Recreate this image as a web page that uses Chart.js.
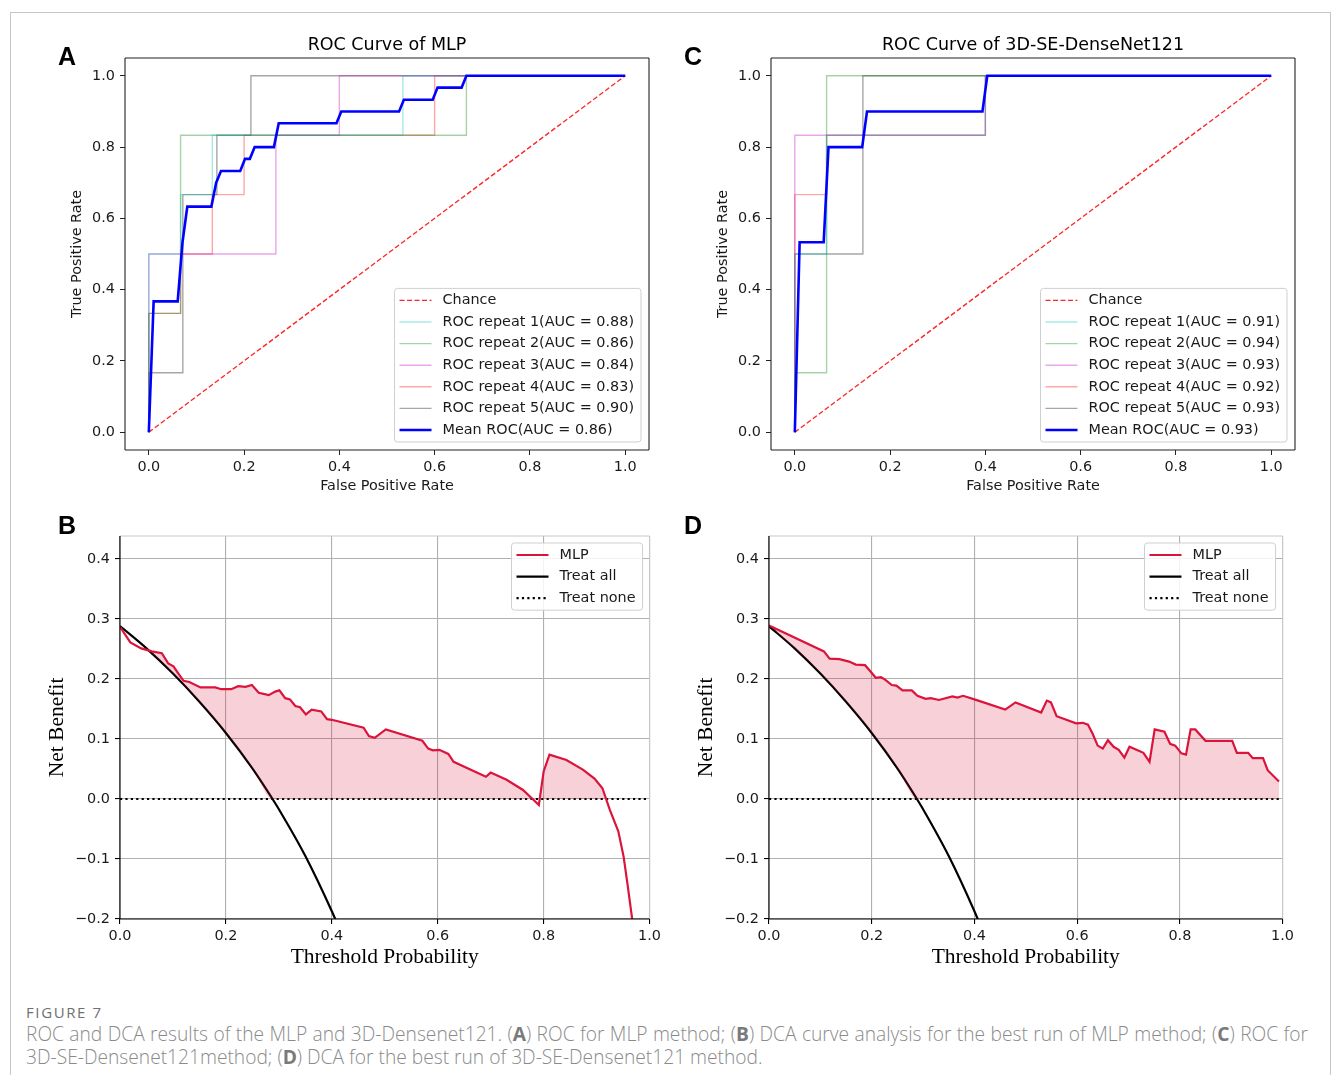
<!DOCTYPE html>
<html>
<head>
<meta charset="utf-8">
<script src="https://cdn.jsdelivr.net/npm/chart.js@4.4.0/dist/chart.umd.min.js"></script>
<style>
  body { margin: 0; background: #fff; width: 1333px; height: 1075px; position: relative; overflow: hidden; }
  .frame { position: absolute; left: 10px; top: 12px; width: 1319px; height: 1100px; border: 1px solid #c6c6c6; }
  canvas { position: absolute; }
  .tag { position: absolute; font: bold 25px "Liberation Sans", Arial, sans-serif; color: #000; line-height: 25px; }
  .fignum { position: absolute; left: 26px; top: 1002px; font: 15px "Open Sans", sans-serif; color: #707070; letter-spacing: 1.6px; }
  .cap { position: absolute; left: 26px; width: 1282px; font: 300 19.2px "Open Sans", sans-serif; color: #8a8a8a; white-space: nowrap; line-height: 23px; }
  .cap b { font-weight: 700; color: #7a7a7a; }
  .l1 { top: 1022px; text-align: justify; text-align-last: justify; }
  .l2 { top: 1045px; }
</style>
</head>
<body>
<div class="frame"></div>

<canvas id="rocMlp" width="640" height="480" style="left:20px; top:26px"></canvas>
<canvas id="rocDense" width="640" height="480" style="left:666px; top:26px"></canvas>
<canvas id="dcaMlp" width="645" height="470" style="left:20px; top:510px"></canvas>
<canvas id="dcaDense" width="630" height="470" style="left:668px; top:510px"></canvas>

<div class="tag" style="left:58px; top:44px">A</div>
<div class="tag" style="left:684px; top:44px">C</div>
<div class="tag" style="left:58px; top:513px">B</div>
<div class="tag" style="left:684px; top:513px">D</div>

<div class="fignum">FIGURE 7</div>
<div class="cap l1">ROC and DCA results of the MLP and 3D-Densenet121. (<b>A</b>) ROC for MLP method; (<b>B</b>) DCA curve analysis for the best run of MLP method; (<b>C</b>) ROC for</div>
<div class="cap l2">3D-SE-Densenet121method; (<b>D</b>) DCA for the best run of 3D-SE-Densenet121 method.</div>

<script>
// ---- tick labels ----
const rocTicks = [0, 0.2, 0.4, 0.6, 0.8, 1.0];
const dcaXTicks = [0, 0.2, 0.4, 0.6, 0.8, 1.0];
const dcaYTicks = [-0.2, -0.1, 0, 0.1, 0.2, 0.3, 0.4];

// ---- chance line ----
const chanceFpr = [0, 1];
const chanceTpr = [0, 1];

// ---- ROC of MLP ----
const mlpLabels = ['ROC repeat 1(AUC = 0.88)', 'ROC repeat 2(AUC = 0.86)', 'ROC repeat 3(AUC = 0.84)',
                   'ROC repeat 4(AUC = 0.83)', 'ROC repeat 5(AUC = 0.90)', 'Mean ROC(AUC = 0.86)'];
const mlpRep1Fpr = [0, 0, 0.0667, 0.0667, 0.1333, 0.1333, 0.5333, 0.5333, 1];
const mlpRep1Tpr = [0, 0.5, 0.5, 0.6667, 0.6667, 0.8333, 0.8333, 1, 1];
const mlpRep2Fpr = [0, 0, 0.0667, 0.0667, 0.6667, 0.6667, 1];
const mlpRep2Tpr = [0, 0.3333, 0.3333, 0.8333, 0.8333, 1, 1];
const mlpRep3Fpr = [0, 0, 0.2667, 0.2667, 0.4, 0.4, 1];
const mlpRep3Tpr = [0, 0.5, 0.5, 0.8333, 0.8333, 1, 1];
const mlpRep4Fpr = [0, 0, 0.0667, 0.0667, 0.1333, 0.1333, 0.2, 0.2, 0.6, 0.6, 1];
const mlpRep4Tpr = [0, 0.3333, 0.3333, 0.5, 0.5, 0.6667, 0.6667, 0.8333, 0.8333, 1, 1];
const mlpRep5Fpr = [0, 0, 0.0714, 0.0714, 0.1429, 0.1429, 0.2143, 0.2143, 1];
const mlpRep5Tpr = [0, 0.1667, 0.1667, 0.6667, 0.6667, 0.8333, 0.8333, 1, 1];
const mlpMeanFpr = [0, 0.0101, 0.0606, 0.0707, 0.0808, 0.1313, 0.1414, 0.1515, 0.1919, 0.2020, 0.2121,
                    0.2222, 0.2626, 0.2727, 0.3939, 0.4040, 0.5253, 0.5354, 0.5960, 0.6061, 0.6566, 0.6667, 1];
const mlpMeanTpr = [0, 0.367, 0.367, 0.533, 0.633, 0.633, 0.7, 0.733, 0.733, 0.767, 0.767,
                    0.8, 0.8, 0.867, 0.867, 0.9, 0.9, 0.933, 0.933, 0.967, 0.967, 1, 1];

// ---- ROC of 3D-SE-DenseNet121 ----
const denseLabels = ['ROC repeat 1(AUC = 0.91)', 'ROC repeat 2(AUC = 0.94)', 'ROC repeat 3(AUC = 0.93)',
                     'ROC repeat 4(AUC = 0.92)', 'ROC repeat 5(AUC = 0.93)', 'Mean ROC(AUC = 0.93)'];
const denseRep1Fpr = [0, 0, 0.0667, 0.0667, 0.4, 0.4, 1];
const denseRep1Tpr = [0, 0.5, 0.5, 0.8333, 0.8333, 1, 1];
const denseRep2Fpr = [0, 0, 0.0667, 0.0667, 1];
const denseRep2Tpr = [0, 0.1667, 0.1667, 1, 1];
const denseRep3Fpr = [0, 0, 0.4, 0.4, 1];
const denseRep3Tpr = [0, 0.8333, 0.8333, 1, 1];
const denseRep4Fpr = [0, 0, 0.0667, 0.0667, 0.4, 0.4, 1];
const denseRep4Tpr = [0, 0.6667, 0.6667, 0.8333, 0.8333, 1, 1];
const denseRep5Fpr = [0, 0, 0.1429, 0.1429, 1];
const denseRep5Tpr = [0, 0.5, 0.5, 1, 1];
const denseMeanFpr = [0, 0.0101, 0.0606, 0.0707, 0.1414, 0.1515, 0.3939, 0.4040, 1];
const denseMeanTpr = [0, 0.533, 0.533, 0.8, 0.8, 0.9, 0.9, 1, 1];

// ---- DCA: treat all / treat none ----
const treatAllX = [0, 0.05, 0.10, 0.15, 0.20, 0.25, 0.288, 0.30, 0.35, 0.40, 0.42];
const treatAllY = [0.288, 0.251, 0.209, 0.162, 0.110, 0.051, 0, -0.017, -0.095, -0.187, -0.228];
const treatNoneX = [0, 1];
const treatNoneY = [0, 0];

// ---- DCA: MLP best run ----
const dcaMlpX = [0, 0.0195, 0.040, 0.060, 0.079, 0.091, 0.101, 0.111, 0.120, 0.131, 0.152, 0.180, 0.191,
                 0.210, 0.223, 0.237, 0.249, 0.262, 0.281, 0.293, 0.301, 0.312, 0.321, 0.331, 0.340, 0.351,
                 0.362, 0.380, 0.391, 0.400, 0.460, 0.470, 0.481, 0.502, 0.571, 0.582, 0.591, 0.603, 0.620,
                 0.630, 0.691, 0.700, 0.730, 0.761, 0.791, 0.800, 0.811, 0.843, 0.874, 0.896, 0.911, 0.925,
                 0.941, 0.951, 0.959, 0.967, 0.975];
const dcaMlpY = [0.287, 0.261, 0.251, 0.246, 0.243, 0.226, 0.221, 0.208, 0.197, 0.195, 0.186, 0.186, 0.183,
                 0.183, 0.188, 0.187, 0.190, 0.177, 0.173, 0.179, 0.181, 0.168, 0.166, 0.155, 0.153, 0.141,
                 0.149, 0.146, 0.133, 0.132, 0.119, 0.105, 0.102, 0.116, 0.097, 0.084, 0.081, 0.082, 0.075,
                 0.062, 0.037, 0.044, 0.032, 0.015, -0.010, 0.046, 0.074, 0.065, 0.049, 0.034, 0.018, -0.018,
                 -0.054, -0.096, -0.146, -0.199, -0.26];

// ---- DCA: 3D-SE-DenseNet121 best run (legend says MLP) ----
const dcaDenseX = [0, 0.107, 0.118, 0.137, 0.156, 0.169, 0.187, 0.196, 0.208, 0.218, 0.226, 0.239, 0.248,
                   0.260, 0.278, 0.289, 0.305, 0.315, 0.331, 0.357, 0.367, 0.378, 0.400, 0.460, 0.480, 0.530,
                   0.541, 0.549, 0.560, 0.598, 0.611, 0.621, 0.630, 0.640, 0.650, 0.660, 0.671, 0.681, 0.692,
                   0.702, 0.729, 0.741, 0.751, 0.770, 0.781, 0.791, 0.803, 0.812, 0.821, 0.830, 0.850, 0.902,
                   0.911, 0.933, 0.942, 0.962, 0.971, 0.993];
const dcaDenseY = [0.289, 0.246, 0.234, 0.233, 0.229, 0.224, 0.223, 0.214, 0.202, 0.203, 0.199, 0.190, 0.189,
                   0.181, 0.181, 0.172, 0.167, 0.168, 0.165, 0.171, 0.169, 0.172, 0.166, 0.149, 0.161, 0.144,
                   0.164, 0.161, 0.138, 0.126, 0.127, 0.124, 0.109, 0.089, 0.084, 0.098, 0.087, 0.082, 0.069,
                   0.087, 0.077, 0.062, 0.116, 0.112, 0.092, 0.089, 0.076, 0.074, 0.116, 0.116, 0.097, 0.097,
                   0.077, 0.077, 0.068, 0.068, 0.048, 0.029];

// ---- helpers ----
Chart.defaults.font.family = 'DejaVu Sans';
Chart.defaults.color = '#1a1a1a';

const TICK_FONT = { family: 'DejaVu Sans', size: 14.4 };
const repColors = ['rgba(0,191,191,0.35)', 'rgba(0,128,0,0.35)', 'rgba(191,0,191,0.35)',
                   'rgba(255,0,0,0.35)', 'rgba(0,0,0,0.35)'];

function pts(xs, ys) {
    return xs.map((x, i) => ({ x: x, y: ys[i] }));
}

function fmt(v) {
    return v.toFixed(1).replace('-', '\u2212');
}

// draws the axes frame (matplotlib spines)
const spines = {
    id: 'spines',
    afterDatasetsDraw(chart, args, opts) {
        const { ctx, chartArea: a } = chart;
        const sides = [
            ['top', a.left, a.top, a.right, a.top],
            ['right', a.right, a.top, a.right, a.bottom],
            ['left', a.left, a.top, a.left, a.bottom],
            ['bottom', a.left, a.bottom, a.right, a.bottom]
        ];
        ctx.save();
        ctx.lineWidth = 1.1;
        sides.forEach(([k, x1, y1, x2, y2]) => {
            if (!opts[k]) return;
            ctx.strokeStyle = opts[k];
            ctx.beginPath();
            ctx.moveTo(x1, y1);
            ctx.lineTo(x2, y2);
            ctx.stroke();
        });
        ctx.restore();
    }
};

// axes title, centred over the plot area like matplotlib
const axTitle = {
    id: 'axTitle',
    afterDraw(chart, args, opts) {
        if (!opts.text) return;
        const { ctx, chartArea: a } = chart;
        ctx.save();
        ctx.font = '17.5px "DejaVu Sans"';
        ctx.fillStyle = '#000';
        ctx.textAlign = 'center';
        ctx.textBaseline = 'middle';
        ctx.fillText(opts.text, (a.left + a.right) / 2, a.top - 12.5);
        ctx.restore();
    }
};

// matplotlib style legend box
const boxLegend = {
    id: 'boxLegend',
    afterDraw(chart, args, opts) {
        const { ctx, chartArea: a } = chart;
        const items = chart.data.datasets
            .filter(d => d.legendRank !== undefined)
            .sort((p, q) => p.legendRank - q.legendRank);
        ctx.save();
        ctx.font = '14.4px "DejaVu Sans"';
        const textW = Math.max(...items.map(d => ctx.measureText(d.label).width));
        const w = 48 + textW + 7;
        const h = 24 + (items.length - 1) * 21.6;
        const x = a.right - opts.inset - w;
        const y = opts.corner === 'top' ? a.top + opts.inset : a.bottom - opts.inset - h;
        ctx.fillStyle = 'rgba(255,255,255,0.85)';
        ctx.strokeStyle = '#cfcfcf';
        ctx.lineWidth = 1;
        ctx.beginPath();
        ctx.roundRect(x, y, w, h, 3);
        ctx.fill();
        ctx.stroke();
        items.forEach((d, i) => {
            const cy = y + 12 + i * 21.6;
            ctx.strokeStyle = d.borderColor;
            ctx.lineWidth = d.borderWidth;
            ctx.setLineDash(d.borderDash || []);
            ctx.beginPath();
            ctx.moveTo(x + 5, cy);
            ctx.lineTo(x + 37, cy);
            ctx.stroke();
            ctx.setLineDash([]);
            ctx.fillStyle = '#1a1a1a';
            ctx.textBaseline = 'middle';
            ctx.fillText(d.label, x + 48, cy);
        });
        ctx.restore();
    }
};

function fixedTicks(values) {
    return scale => { scale.ticks = values.map(v => ({ value: v })); };
}

// ---- ROC chart ----
function makeRoc(id, title, labels, reps, mean) {
    const datasets = [{
        label: labels[5],
        data: pts(mean[0], mean[1]),
        borderColor: '#0000ff',
        borderWidth: 2.6,
        legendRank: 6
    }];
    reps.forEach((r, i) => {
        datasets.push({
            label: labels[i],
            data: pts(r[0], r[1]),
            borderColor: repColors[i],
            borderWidth: 1.4,
            legendRank: i + 1
        });
    });
    datasets.push({
        label: 'Chance',
        data: pts(chanceFpr, chanceTpr),
        borderColor: 'rgba(255,0,0,0.85)',
        borderWidth: 1.4,
        borderDash: [5, 2.5],
        legendRank: 0
    });

    new Chart(document.getElementById(id), {
        type: 'line',
        data: { datasets: datasets },
        options: {
            responsive: false,
            animation: false,
            events: [],
            devicePixelRatio: 1,
            layout: { padding: { left: 0, right: 11, top: 32, bottom: 6 } },
            elements: { point: { radius: 0 }, line: { tension: 0 } },
            plugins: {
                legend: { display: false },
                tooltip: { enabled: false },
                axTitle: { text: title },
                spines: { top: '#222', right: '#222', left: '#222', bottom: '#222' },
                boxLegend: { corner: 'bottom', inset: 8 }
            },
            scales: {
                x: {
                    type: 'linear',
                    min: -0.05,
                    max: 1.05,
                    afterBuildTicks: fixedTicks(rocTicks),
                    afterFit: s => { s.height = 50; },
                    border: { display: false },
                    grid: { drawOnChartArea: false, drawTicks: true, tickLength: 5, tickColor: '#222' },
                    ticks: { font: TICK_FONT, padding: 4, maxRotation: 0, callback: v => fmt(v) },
                    title: { display: true, text: 'False Positive Rate', font: TICK_FONT, padding: { bottom: 5.4 } }
                },
                y: {
                    type: 'linear',
                    min: -0.05,
                    max: 1.05,
                    afterBuildTicks: fixedTicks(rocTicks),
                    afterFit: s => { s.width = 105; },
                    border: { display: false },
                    grid: { drawOnChartArea: false, drawTicks: true, tickLength: 5, tickColor: '#222' },
                    ticks: { font: TICK_FONT, padding: 5, callback: v => fmt(v) },
                    title: { display: true, text: 'True Positive Rate', font: TICK_FONT, padding: { top: 48.4 } }
                }
            }
        },
        plugins: [spines, axTitle, boxLegend]
    });
}

// ---- DCA chart ----
function makeDca(id, modelX, modelY, yWidth, yTitlePad, rightPad) {
    const floor = pts(treatAllX, treatAllY.map(v => Math.max(v, 0)));
    floor.push({ x: 1, y: 0 });
    const serif = { family: '"Liberation Serif", "Times New Roman", serif', size: 21.5 };

    new Chart(document.getElementById(id), {
        type: 'line',
        data: {
            datasets: [{
                label: 'MLP',
                data: pts(modelX, modelY),
                borderColor: '#dc143c',
                borderWidth: 2.2,
                fill: { target: 3, above: 'rgba(220,20,60,0.2)', below: 'rgba(0,0,0,0)' },
                legendRank: 0
            }, {
                label: 'Treat all',
                data: pts(treatAllX, treatAllY),
                borderColor: '#000',
                borderWidth: 2.2,
                cubicInterpolationMode: 'monotone',
                legendRank: 1
            }, {
                label: 'Treat none',
                data: pts(treatNoneX, treatNoneY),
                borderColor: '#000',
                borderWidth: 2.2,
                borderDash: [2.2, 3.2],
                legendRank: 2
            }, {
                label: 'floor',
                data: floor,
                borderColor: 'rgba(0,0,0,0)',
                borderWidth: 0,
                cubicInterpolationMode: 'monotone'
            }]
        },
        options: {
            responsive: false,
            animation: false,
            events: [],
            devicePixelRatio: 1,
            layout: { padding: { left: 0, right: rightPad, top: 26, bottom: 6 } },
            elements: { point: { radius: 0 }, line: { tension: 0 } },
            plugins: {
                legend: { display: false },
                tooltip: { enabled: false },
                spines: { top: '#c8c8c8', right: '#c8c8c8', left: '#000', bottom: '#000' },
                boxLegend: { corner: 'top', inset: 7 }
            },
            scales: {
                x: {
                    type: 'linear',
                    min: 0,
                    max: 1,
                    afterBuildTicks: fixedTicks(dcaXTicks),
                    afterFit: s => { s.height = 55; },
                    border: { display: false },
                    grid: { color: '#b0b0b0', lineWidth: 1.1, drawTicks: true, tickLength: 5, tickColor: '#000' },
                    ticks: { font: TICK_FONT, padding: 4, maxRotation: 0, callback: v => fmt(v) },
                    title: { display: true, text: 'Threshold Probability', color: '#000', font: serif, padding: { bottom: 4.1 } }
                },
                y: {
                    type: 'linear',
                    min: -0.2,
                    max: 0.4383,
                    afterBuildTicks: fixedTicks(dcaYTicks),
                    afterFit: s => { s.width = yWidth; },
                    border: { display: false },
                    grid: { color: '#b0b0b0', lineWidth: 1.1, drawTicks: true, tickLength: 5, tickColor: '#000' },
                    ticks: { font: TICK_FONT, padding: 5, callback: v => fmt(v) },
                    title: { display: true, text: 'Net Benefit', color: '#000', font: serif, padding: { top: yTitlePad } }
                }
            }
        },
        plugins: [spines, boxLegend]
    });
}

makeRoc('rocMlp', 'ROC Curve of MLP', mlpLabels,
    [[mlpRep1Fpr, mlpRep1Tpr], [mlpRep2Fpr, mlpRep2Tpr], [mlpRep3Fpr, mlpRep3Tpr],
     [mlpRep4Fpr, mlpRep4Tpr], [mlpRep5Fpr, mlpRep5Tpr]],
    [mlpMeanFpr, mlpMeanTpr]);

makeRoc('rocDense', 'ROC Curve of 3D-SE-DenseNet121', denseLabels,
    [[denseRep1Fpr, denseRep1Tpr], [denseRep2Fpr, denseRep2Tpr], [denseRep3Fpr, denseRep3Tpr],
     [denseRep4Fpr, denseRep4Tpr], [denseRep5Fpr, denseRep5Tpr]],
    [denseMeanFpr, denseMeanTpr]);

makeDca('dcaMlp', dcaMlpX, dcaMlpY, 100, 24.1, 15);
makeDca('dcaDense', dcaDenseX, dcaDenseY, 101, 25.1, 15);
</script>
</body>
</html>
